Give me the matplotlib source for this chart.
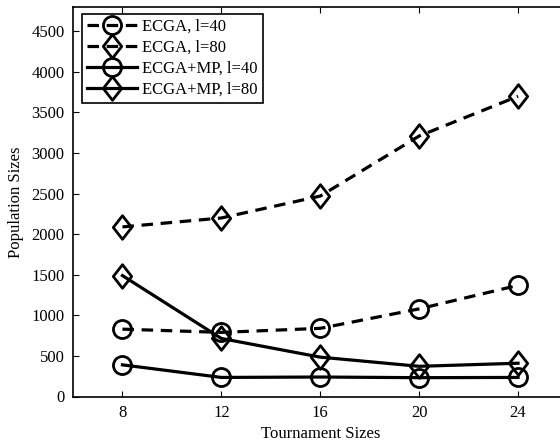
import numpy as np
import matplotlib.pyplot as plt
from matplotlib.path import Path

plt.rcParams['font.family'] = ['Liberation Serif', 'DejaVu Serif']

tournament = [8, 12, 16, 20, 24]
ecga_40 = [830, 790, 840, 1080, 1370]
ecga_80 = [2090, 2200, 2470, 3210, 3700]
ecgamp_40 = [390, 235, 240, 232, 235]
ecgamp_80 = [1490, 715, 485, 372, 410]
labels = ['ECGA, l=40', 'ECGA, l=80', 'ECGA+MP, l=40', 'ECGA+MP, l=80']

# matlab-like diamond, slightly taller than wide
diamond = Path([(0, 1), (0.78, 0), (0, -1), (-0.78, 0), (0, 1)],
               [Path.MOVETO, Path.LINETO, Path.LINETO, Path.LINETO, Path.CLOSEPOLY])

fig = plt.figure(figsize=(5.6, 4.43), dpi=100)
ax = fig.add_axes([73/560, 46.5/443, 494.5/560, 389.5/443])

lw = 2.3
common = dict(color='black', lw=lw, mfc='none', mec='black', mew=2.0)
ax.plot(tournament, ecga_40, ls=(0, (3.6, 2.4)), marker='o', ms=13, label=labels[0], **common)
ax.plot(tournament, ecga_80, ls=(0, (3.6, 2.4)), marker=diamond, ms=17, label=labels[1], **common)
ax.plot(tournament, ecgamp_40, ls='-', marker='o', ms=13, label=labels[2], **common)
ax.plot(tournament, ecgamp_80, ls='-', marker=diamond, ms=17, label=labels[3], **common)

ax.set_xlim(6, 26)
ax.set_ylim(0, 4800)
ax.set_xticks(tournament)
ax.set_yticks(np.arange(0, 4501, 500))
ax.tick_params(direction='in', length=4, width=0.8, labelsize=12, pad=6,
               top=True, right=True)
for s in ax.spines.values():
    s.set_linewidth(1.2)

ax.set_xlabel('Tournament Sizes', fontsize=12, labelpad=4)
ax.set_ylabel('Population Sizes', fontsize=12, labelpad=5)

leg = ax.legend(loc='upper left', bbox_to_anchor=(82/560, 1 - 14/443),
                bbox_transform=fig.transFigure, borderaxespad=0, fontsize=12,
                handlelength=3.0, handletextpad=0.3, labelspacing=0.3,
                borderpad=0.3, fancybox=False, framealpha=1)
leg.get_frame().set_edgecolor('black')
leg.get_frame().set_linewidth(1.2)

fig.savefig('out.png', dpi=100)
